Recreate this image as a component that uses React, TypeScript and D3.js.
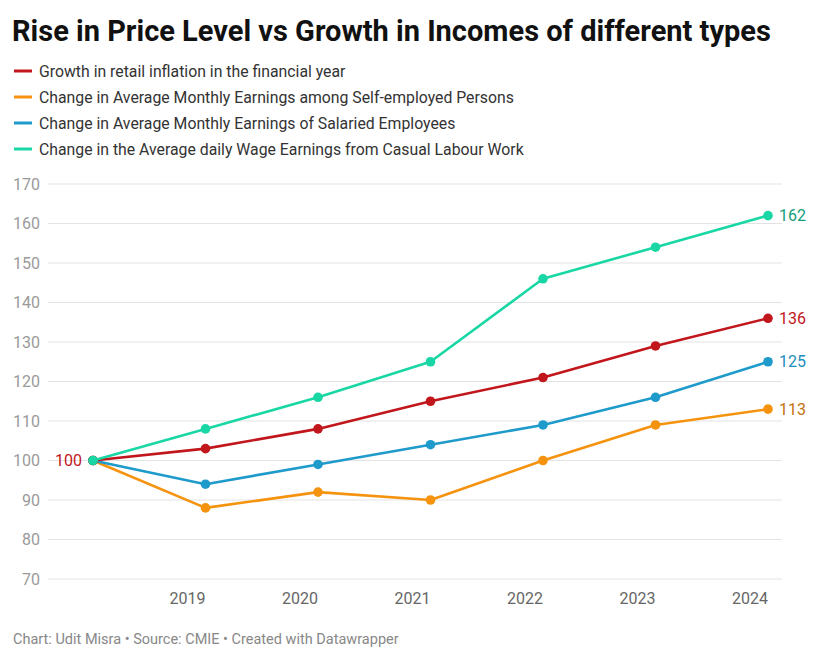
import { useEffect, useRef } from "react";
import * as d3 from "d3";

// years (2018 is the base year = 100, shown without a tick label)
const years = [2018, 2019, 2020, 2021, 2022, 2023, 2024];
const yTicks = [70, 80, 90, 100, 110, 120, 130, 140, 150, 160, 170];

const inflation = [100, 103, 108, 115, 121, 129, 136];
const selfEmployed = [100, 88, 92, 90, 100, 109, 113];
const salaried = [100, 94, 99, 104, 109, 116, 125];
const casualLabour = [100, 108, 116, 125, 146, 154, 162];

const seriesNames = [
  "Growth in retail inflation in the financial year",
  "Change in Average Monthly Earnings among Self-employed Persons",
  "Change in Average Monthly Earnings of Salaried Employees",
  "Change in the Average daily Wage Earnings from Casual Labour Work",
];
const seriesValues = [inflation, selfEmployed, salaried, casualLabour];
const lineColors = ["#c1171c", "#f5930f", "#1f9bcb", "#19d7a4"];
const labelColors = ["#c1171c", "#c4700c", "#1b8ebd", "#11a079"];

const W = 820;
const H = 664;
const FONT = "Roboto, 'Noto Sans', sans-serif";

const App = () => {
  const svgRef = useRef<SVGSVGElement>(null);

  useEffect(() => {
    if (!svgRef.current) return;
    const svg = d3.select(svgRef.current);
    svg.selectAll("*").remove();

    const x = d3.scaleLinear().domain([2018, 2024]).range([93, 768]);
    const y = d3.scaleLinear().domain([70, 170]).range([579, 184]);

    // title
    svg
      .append("text")
      .attr("x", 12)
      .attr("y", 41)
      .attr("font-family", FONT)
      .attr("font-weight", 700)
      .attr("font-size", 29)
      .attr("fill", "#111")
      .text("Rise in Price Level vs Growth in Incomes of different types");

    // legend
    const legend = svg
      .selectAll(".legend-item")
      .data(seriesNames)
      .enter()
      .append("g")
      .attr("class", "legend-item")
      .attr("transform", (_d, i) => `translate(0, ${71 + i * 26})`);

    legend
      .append("line")
      .attr("x1", 14)
      .attr("x2", 32)
      .attr("stroke", (_d, i) => lineColors[i])
      .attr("stroke-width", 3);

    legend
      .append("text")
      .attr("x", 39)
      .attr("y", 5.5)
      .attr("font-family", FONT)
      .attr("font-size", 15.8)
      .attr("fill", "#333")
      .text((d) => d);

    // gridlines + y labels
    const grid = svg.append("g");
    yTicks.forEach((t) => {
      grid
        .append("line")
        .attr("x1", 48)
        .attr("x2", 782)
        .attr("y1", y(t))
        .attr("y2", y(t))
        .attr("stroke", "#e3e3e3")
        .attr("stroke-width", 1);
      grid
        .append("text")
        .attr("x", 40)
        .attr("y", y(t) + 5.5)
        .attr("text-anchor", "end")
        .attr("font-family", FONT)
        .attr("font-size", 16)
        .attr("fill", "#9a9a9a")
        .text(t);
    });

    // x labels, right-aligned on each year
    svg
      .append("g")
      .selectAll("text")
      .data(years.slice(1))
      .enter()
      .append("text")
      .attr("x", (d) => x(d))
      .attr("y", 604)
      .attr("text-anchor", "end")
      .attr("font-family", FONT)
      .attr("font-size", 16)
      .attr("fill", "#666")
      .text((d) => d);

    const line = d3
      .line<number>()
      .x((_d, i) => x(years[i]))
      .y((d) => y(d));

    const order = [1, 2, 0, 3];
    order.forEach((k) => {
      const vals = seriesValues[k];
      const g = svg.append("g");
      g.append("path")
        .attr("d", line(vals))
        .attr("fill", "none")
        .attr("stroke", lineColors[k])
        .attr("stroke-width", 2.6)
        .attr("stroke-linejoin", "round");
      g.selectAll("circle")
        .data(vals)
        .enter()
        .append("circle")
        .attr("cx", (_d, i) => x(years[i]))
        .attr("cy", (d) => y(d))
        .attr("r", 4.8)
        .attr("fill", lineColors[k]);

      const last = vals[vals.length - 1];
      g.append("text")
        .attr("x", x(years[years.length - 1]) + 11)
        .attr("y", y(last) + 5.5)
        .attr("font-family", FONT)
        .attr("font-size", 16)
        .attr("fill", labelColors[k])
        .text(last);
    });

    // base-year label
    svg
      .append("text")
      .attr("x", x(years[0]) - 11)
      .attr("y", y(inflation[0]) + 5.5)
      .attr("text-anchor", "end")
      .attr("font-family", FONT)
      .attr("font-size", 16)
      .attr("fill", labelColors[0])
      .text(inflation[0]);

    // footer
    svg
      .append("text")
      .attr("x", 13)
      .attr("y", 644)
      .attr("font-family", FONT)
      .attr("font-size", 14.5)
      .attr("fill", "#888")
      .text("Chart: Udit Misra • Source: CMIE • Created with Datawrapper");
  }, []);

  return (
    <div style={{ position: "absolute", left: 0, top: 0, background: "#fff" }}>
      <svg ref={svgRef} width={W} height={H} style={{ display: "block" }} />
    </div>
  );
};

export default App;
